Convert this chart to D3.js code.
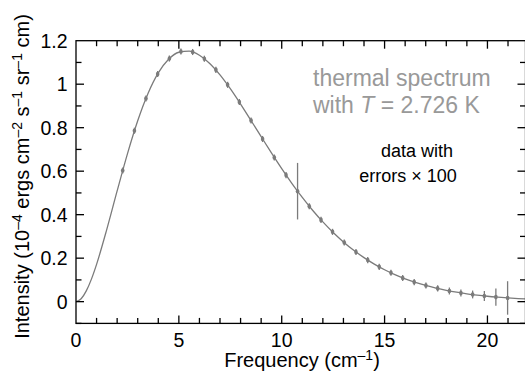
<!DOCTYPE html>
<html>
<head>
<meta charset="utf-8">
<script src="https://cdn.jsdelivr.net/npm/d3@7"></script>
<style>
	body { margin: 0; background: #fff; }
	svg text { font-family: "Liberation Sans", Arial, sans-serif; }
</style>
</head>
<body>
<div id="chart"></div>
<script>
"use strict";

// measured points (cm^-1, 10^-4 ergs cm^-2 s^-1 sr^-1 cm)
const freq = [2.27, 2.84, 3.40, 3.97, 4.54, 5.10, 5.67, 6.24, 6.80, 7.37, 7.94, 8.51,
	9.07, 9.64, 10.21, 10.77, 11.34, 11.91, 12.47, 13.04, 13.61, 14.18, 14.74, 15.31,
	15.88, 16.44, 17.01, 17.58, 18.15, 18.71, 19.28, 19.85, 20.41, 20.98];
const intensity = [0.603, 0.786, 0.934, 1.047, 1.118, 1.150, 1.148, 1.117, 1.066, 0.997, 0.918, 0.833,
	0.748, 0.663, 0.582, 0.508, 0.439, 0.376, 0.321, 0.272, 0.228, 0.191, 0.160, 0.133,
	0.109, 0.090, 0.074, 0.061, 0.049, 0.040, 0.033, 0.026, 0.021, 0.017];
// errors already multiplied by 100
const errors = [0.014, 0.014, 0.014, 0.014, 0.014, 0.014, 0.014, 0.014, 0.014, 0.014, 0.014, 0.014,
	0.014, 0.014, 0.014, 0.130, 0.014, 0.014, 0.014, 0.014, 0.014, 0.014, 0.014, 0.014,
	0.014, 0.014, 0.014, 0.014, 0.016, 0.016, 0.018, 0.023, 0.040, 0.077];

// blackbody curve
const curveFreq = [0, 0.25, 0.5, 0.75, 1, 1.5, 2, 2.5, 3, 3.5, 4, 4.5, 5, 5.5, 6, 6.5, 7, 7.5, 8,
	8.5, 9, 9.5, 10, 10.5, 11, 11.5, 12, 12.5, 13, 13.5, 14, 14.5, 15, 15.5, 16, 16.5, 17,
	17.5, 18, 18.5, 19, 19.5, 20, 20.5, 21, 21.5, 22];
const curveIntensity = [0, 0.0132, 0.0494, 0.1036, 0.1716, 0.3335, 0.5092, 0.6798, 0.8318, 0.9572,
	1.0517, 1.1144, 1.1469, 1.1519, 1.1333, 1.0955, 1.0428, 0.9793, 0.9087, 0.8343, 0.7587,
	0.6840, 0.6116, 0.5432, 0.4792, 0.4203, 0.3666, 0.3181, 0.2748, 0.2363, 0.2024, 0.1727,
	0.1468, 0.1244, 0.1051, 0.0885, 0.0743, 0.0623, 0.0521, 0.0434, 0.0361, 0.0300, 0.0248,
	0.0206, 0.0170, 0.0140, 0.0115];

const xTicks = [0, 5, 10, 15, 20];
const yTicks = [0, 0.2, 0.4, 0.6, 0.8, 1, 1.2];

const WIDTH = 525, HEIGHT = 372;
const plotLeft = 76, plotRight = 525.5, plotTop = 40.7, plotBottom = 323.4;
const gray = "#7b7b7b";

let svg = d3.select("#chart").append("svg")
	.attr("width", WIDTH)
	.attr("height", HEIGHT);

let x = d3.scaleLinear().domain([0, 21.85]).range([plotLeft, plotRight]);
let y = d3.scaleLinear().domain([-0.1, 1.2]).range([plotBottom, plotTop]);

svg.append("clipPath").attr("id", "plotClip")
	.append("rect")
	.attr("x", plotLeft).attr("y", plotTop)
	.attr("width", plotRight - plotLeft).attr("height", plotBottom - plotTop);

// theory curve
let line = d3.line()
	.x(function (d) { return x(d[0]) })
	.y(function (d) { return y(d[1]) })
	.curve(d3.curveMonotoneX);

svg.append("path")
	.datum(d3.zip(curveFreq, curveIntensity))
	.attr("clip-path", "url(#plotClip)")
	.attr("d", line)
	.style("fill", "none")
	.style("stroke", gray)
	.style("stroke-width", "1.3px");

// error bars and points
let pts = d3.range(freq.length);

svg.selectAll("line.err")
	.data(pts)
	.enter()
	.append("line")
	.attr("class", "err")
	.attr("x1", function (i) { return x(freq[i]) })
	.attr("x2", function (i) { return x(freq[i]) })
	.attr("y1", function (i) { return y(intensity[i] + errors[i]) })
	.attr("y2", function (i) { return y(intensity[i] - errors[i]) })
	.style("stroke", gray)
	.style("stroke-width", "1.3px");

svg.selectAll("ellipse.pt")
	.data(pts)
	.enter()
	.append("ellipse")
	.attr("class", "pt")
	.attr("cx", function (i) { return x(freq[i]) })
	.attr("cy", function (i) { return y(intensity[i]) })
	.attr("rx", 1.8)
	.attr("ry", 2.3)
	.style("fill", gray);

// frame
svg.append("rect")
	.attr("x", plotLeft).attr("y", plotTop)
	.attr("width", plotRight - plotLeft).attr("height", plotBottom - plotTop)
	.style("fill", "none")
	.style("stroke", "#000")
	.style("stroke-width", "1.3px");

// inward ticks on all four sides
let xMinor = d3.range(1, 22);
let yMinor = d3.range(-1, 12).map(function (v) { return v / 10 });

function tickLen(major) { return major ? 8 : 5.5 }

xMinor.forEach(function (v) {
	let major = v % 5 == 0;
	svg.append("line")
		.attr("x1", x(v)).attr("x2", x(v))
		.attr("y1", plotBottom).attr("y2", plotBottom - tickLen(major))
		.style("stroke", "#000").style("stroke-width", "1.3px");
	svg.append("line")
		.attr("x1", x(v)).attr("x2", x(v))
		.attr("y1", plotTop).attr("y2", plotTop + tickLen(major))
		.style("stroke", "#000").style("stroke-width", "1.3px");
});

yMinor.forEach(function (v) {
	let major = Math.round(v * 10) % 2 == 0;
	svg.append("line")
		.attr("x1", plotLeft).attr("x2", plotLeft + tickLen(major))
		.attr("y1", y(v)).attr("y2", y(v))
		.style("stroke", "#000").style("stroke-width", "1.3px");
	svg.append("line")
		.attr("x1", plotRight).attr("x2", plotRight - tickLen(major))
		.attr("y1", y(v)).attr("y2", y(v))
		.style("stroke", "#000").style("stroke-width", "1.3px");
});

// tick labels
svg.selectAll("text.xt")
	.data(xTicks)
	.enter()
	.append("text")
	.attr("class", "xt")
	.attr("x", function (d) { return x(d) })
	.attr("y", 347)
	.attr("text-anchor", "middle")
	.style("font-size", "19.5px")
	.text(function (d) { return d });

svg.selectAll("text.yt")
	.data(yTicks)
	.enter()
	.append("text")
	.attr("class", "yt")
	.attr("x", 67.5)
	.attr("y", function (d) { return y(d) })
	.attr("dy", "0.36em")
	.attr("text-anchor", "end")
	.style("font-size", "19.5px")
	.text(function (d) { return d });

// axis titles
let xTitle = svg.append("text")
	.attr("x", 302)
	.attr("y", 367)
	.attr("text-anchor", "middle")
	.style("font-size", "20px");
xTitle.append("tspan").text("Frequency (cm");
xTitle.append("tspan").attr("dy", -7).style("font-size", "14px").text("\u20131");
xTitle.append("tspan").attr("dy", 7).text(")");

let yTitle = svg.append("text")
	.attr("transform", "translate(29,176.5) rotate(-90)")
	.attr("text-anchor", "middle")
	.style("font-size", "20px");
let yParts = [["Intensity (10", "\u20134"], [" ergs cm", "\u20132"], [" s", "\u20131"], [" sr", "\u20131"], [" cm)", null]];
let shifted = false;
yParts.forEach(function (p) {
	yTitle.append("tspan").attr("dy", shifted ? 7 : 0).text(p[0]);
	shifted = false;
	if (p[1]) {
		yTitle.append("tspan").attr("dy", -7).style("font-size", "14px").text(p[1]);
		shifted = true;
	}
});

// annotations
svg.append("text")
	.attr("x", 313).attr("y", 86)
	.style("font-size", "23px")
	.style("fill", "#999")
	.text("thermal spectrum");

let withT = svg.append("text")
	.attr("x", 313).attr("y", 113)
	.style("font-size", "23px")
	.style("fill", "#999");
withT.append("tspan").text("with ");
withT.append("tspan").style("font-style", "italic").text("T");
withT.append("tspan").text(" = 2.726 K");

svg.append("text")
	.attr("x", 417).attr("y", 157)
	.attr("text-anchor", "middle")
	.style("font-size", "18px")
	.text("data with");

svg.append("text")
	.attr("x", 408).attr("y", 182)
	.attr("text-anchor", "middle")
	.style("font-size", "18px")
	.text("errors \u00d7 100");
</script>
</body>
</html>
